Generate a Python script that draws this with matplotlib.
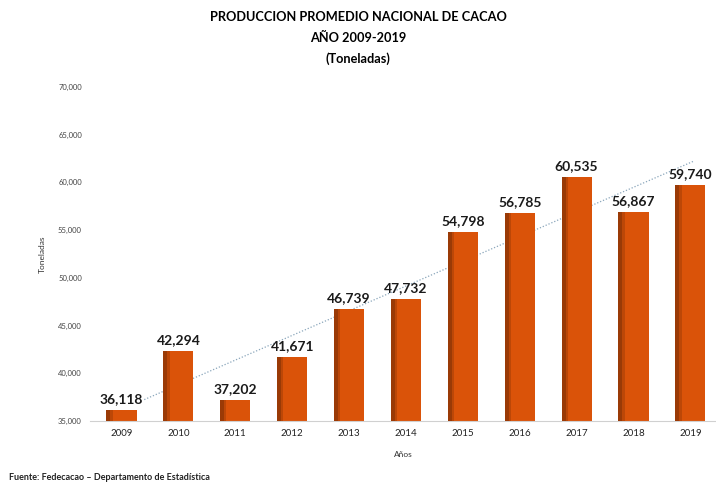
import numpy as np
import matplotlib.pyplot as plt

anios = ['2009', '2010', '2011', '2012', '2013', '2014', '2015', '2016', '2017', '2018', '2019']
produccion = [36118, 42294, 37202, 41671, 46739, 47732, 54798, 56785, 60535, 56867, 59740]
yticks = [35000, 40000, 45000, 50000, 55000, 60000, 65000, 70000]

plt.rcParams['font.family'] = ['Lato', 'DejaVu Sans']

fig = plt.figure(figsize=(7.16, 4.86), dpi=100)
ax = fig.add_axes([0.126, 0.134, 0.874, 0.687])

x = np.arange(len(anios))
ancho = 0.53
ax.bar(x, produccion, width=ancho, color='#DA5309', zorder=2)
# sombra del lado izquierdo (efecto 3D)
ax.bar(x - ancho / 2 + 0.035, produccion, width=0.07, color='#9A3A06', zorder=3)
ax.bar(x - ancho / 2 + 0.09, produccion, width=0.04, color='#BC4707', zorder=3)

for xi, v in zip(x, produccion):
    ax.text(xi, v + 550, f'{v:,}', ha='center', va='bottom', fontsize=10,
            fontweight='bold', color='#1a1a1a', zorder=4)

# linea de tendencia lineal
m, b = np.polyfit(x, produccion, 1)
xt = np.array([0.4, 10.05])
ax.plot(xt, m * xt + b, linestyle=(0, (1, 1.5)), color='#8aa6bb', linewidth=0.9, zorder=1)

ax.set_xlim(-0.55, 10.45)
ax.set_ylim(35000, 70000)
ax.set_xticks(x)
ax.set_xticklabels(anios, fontsize=7, color='#222222')
ax.set_yticks(yticks)
ax.set_yticklabels([f'{t:,}' for t in yticks], fontsize=5.5, color='#444444')
ax.tick_params(axis='both', length=0, pad=6)
for s in ['top', 'right', 'left']:
    ax.spines[s].set_visible(False)
ax.spines['bottom'].set_color('#d0d0d0')

ax.set_ylabel('Toneladas', fontsize=6, color='#333333', labelpad=9)
ax.set_xlabel('Años', fontsize=6, color='#333333', labelpad=9)

fig.text(0.5, 0.965, 'PRODUCCION PROMEDIO NACIONAL DE CACAO', ha='center', va='center', fontsize=9.2, fontweight='bold')
fig.text(0.5, 0.922, 'AÑO 2009-2019', ha='center', va='center', fontsize=9.2, fontweight='bold')
fig.text(0.5, 0.880, '(Toneladas)', ha='center', va='center', fontsize=9.2, fontweight='bold')
fig.text(0.012, 0.013, 'Fuente: Fedecacao – Departamento de Estadística', fontsize=6.5, fontweight='bold', color='#222222')

fig.savefig('out.png', dpi=100)
